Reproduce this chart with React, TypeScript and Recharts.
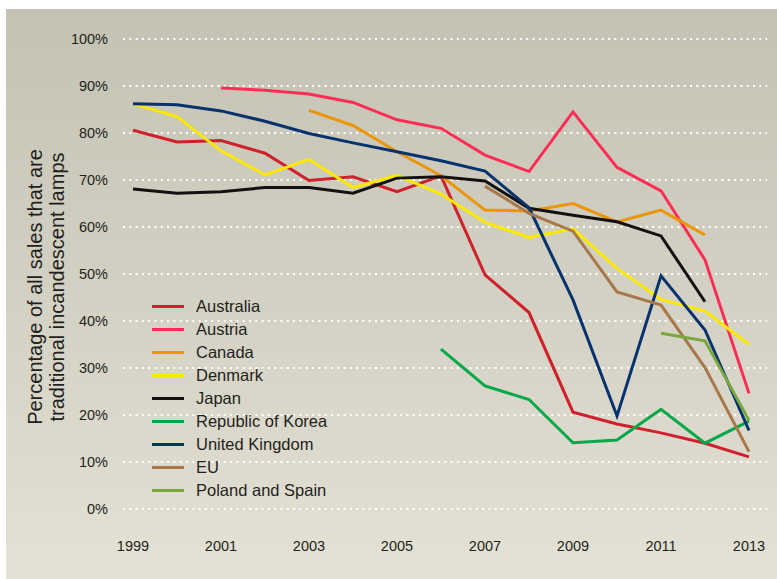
import React from 'react';
import { LineChart, Line, XAxis, YAxis, CartesianGrid } from 'recharts';

const years = [1999, 2000, 2001, 2002, 2003, 2004, 2005, 2006, 2007, 2008, 2009, 2010, 2011, 2012, 2013];
const xTicks = [1999, 2001, 2003, 2005, 2007, 2009, 2011, 2013];
const yTicks = [0, 10, 20, 30, 40, 50, 60, 70, 80, 90, 100];

const australia = [80.6, 78.1, 78.4, 75.7, 69.9, 70.7, 67.5, 70.9, 49.8, 41.8, 20.6, 18.1, 16.2, 14.0, 11.1];
const austria = [null, null, 89.6, 89.1, 88.3, 86.5, 82.8, 81.0, 75.3, 71.8, 84.5, 72.7, 67.7, 53.0, 24.6];
const canada = [null, null, null, null, 84.8, 81.6, 76.0, 70.9, 63.6, 63.4, 65.0, 61.1, 63.6, 58.3, null];
const denmark = [86.2, 83.5, 76.2, 71.1, 74.4, 68.4, 71.0, 67.0, 61.0, 57.8, 59.6, 51.2, 44.6, 42.1, 35.0];
const japan = [68.1, 67.2, 67.5, 68.4, 68.4, 67.2, 70.4, 70.7, 69.8, 64.0, 62.5, 61.1, 58.1, 44.1, null];
const korea = [null, null, null, null, null, null, null, 34.0, 26.2, 23.3, 14.1, 14.7, 21.2, 14.0, 18.7];
const uk = [86.2, 86.0, 84.7, 82.5, 79.9, 77.9, 76.0, 74.1, 71.9, 64.1, 44.5, 19.8, 49.6, 38.1, 16.7];
const eu = [null, null, null, null, null, null, null, null, 68.7, 62.9, 59.1, 46.2, 43.4, 30.1, 12.2];
const polandSpain = [null, null, null, null, null, null, null, null, null, null, null, null, 37.4, 35.8, 18.9];

const series = [
  { key: 'australia', name: 'Australia', color: '#d0202b', values: australia },
  { key: 'austria', name: 'Austria', color: '#ff2d55', values: austria },
  { key: 'canada', name: 'Canada', color: '#eb9508', values: canada },
  { key: 'denmark', name: 'Denmark', color: '#fbe900', values: denmark },
  { key: 'japan', name: 'Japan', color: '#111111', values: japan },
  { key: 'korea', name: 'Republic of Korea', color: '#00a84a', values: korea },
  { key: 'uk', name: 'United Kingdom', color: '#06326e', values: uk },
  { key: 'eu', name: 'EU', color: '#a8784a', values: eu },
  { key: 'polandSpain', name: 'Poland and Spain', color: '#7aa640', values: polandSpain },
];

const data = years.map((year, i) => {
  const row: Record<string, number | null> = { year };
  series.forEach((s) => {
    row[s.key] = s.values[i];
  });
  return row;
});

const FONT = '"Liberation Sans", Arial, Helvetica, sans-serif';
const TEXT = '#231f20';

function ChartLegend() {
  return (
    <div style={{ position: 'absolute', left: 146, top: 286, fontFamily: FONT }}>
      {series.map((s) => (
        <div key={s.key} style={{ display: 'flex', alignItems: 'center', height: 23 }}>
          <span style={{ display: 'inline-block', width: 32, height: 3, background: s.color, marginRight: 12 }} />
          <span style={{ fontSize: 16.5, color: TEXT, whiteSpace: 'nowrap' }}>{s.name}</span>
        </div>
      ))}
    </div>
  );
}

export default function App() {
  return (
    <div
      style={{
        position: 'absolute',
        left: 6,
        top: 9,
        width: 771,
        height: 570,
        background: 'linear-gradient(to bottom, #c3c2b3 0%, #d3d1c3 50%, #e4e1d5 100%)',
      }}
    >
      <LineChart width={771} height={570} data={data} margin={{ top: 30, right: 10, left: 57, bottom: 30 }}>
        <CartesianGrid vertical={false} stroke="#ffffff" strokeWidth={2} strokeDasharray="2 4.3" />
        <XAxis
          dataKey="year"
          type="number"
          domain={[1999, 2013]}
          ticks={xTicks}
          padding={{ left: 10, right: 18 }}
          axisLine={false}
          tickLine={false}
          tickSize={0}
          tickMargin={32}
          height={40}
          tick={{ fontSize: 14.5, fill: TEXT, fontFamily: FONT }}
        />
        <YAxis
          domain={[0, 100]}
          ticks={yTicks}
          width={60}
          axisLine={false}
          tickLine={false}
          tickSize={0}
          tickMargin={15}
          tickFormatter={(v) => `${v}%`}
          tick={{ fontSize: 14.5, fill: TEXT, fontFamily: FONT }}
        />
        {series.map((s) => (
          <Line
            key={s.key}
            dataKey={s.key}
            name={s.name}
            stroke={s.color}
            strokeWidth={3}
            dot={false}
            activeDot={false}
            type="linear"
            isAnimationActive={false}
          />
        ))}
        <text
          x={29}
          y={278}
          transform="rotate(-90, 29, 278)"
          textAnchor="middle"
          dominantBaseline="central"
          fontFamily={FONT}
          fontSize={20}
          fill={TEXT}
        >
          Percentage of all sales that are
        </text>
        <text
          x={51}
          y={278}
          transform="rotate(-90, 51, 278)"
          textAnchor="middle"
          dominantBaseline="central"
          fontFamily={FONT}
          fontSize={20}
          fill={TEXT}
        >
          traditional incandescent lamps
        </text>
      </LineChart>
      <ChartLegend />
    </div>
  );
}
